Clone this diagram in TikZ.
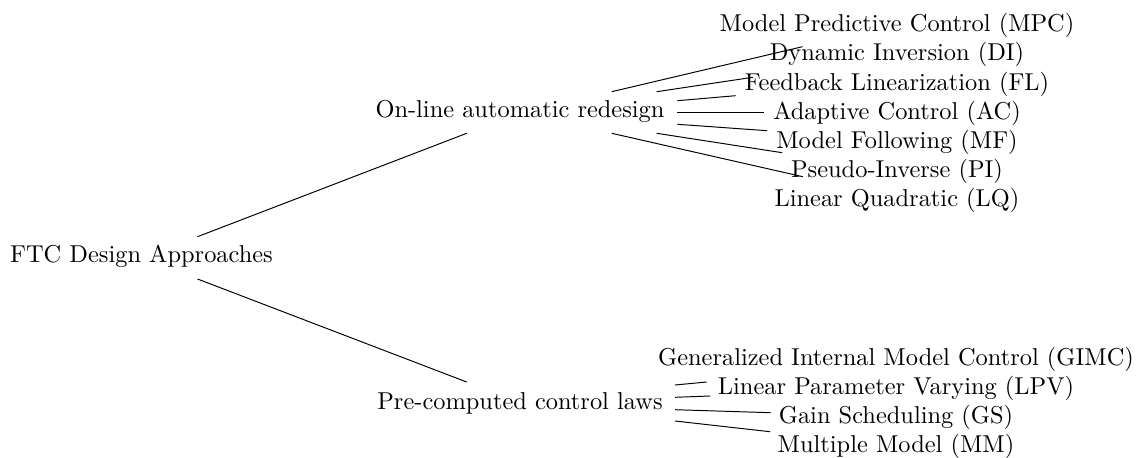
\documentclass[tikz,border=0pt]{standalone}
\begin{document}
\begin{tikzpicture}[x=0.4098pt,y=-0.4098pt,
  txt/.style={inner sep=0pt,anchor=base},
  branch/.style={line width=0.4pt}]
\useasboundingbox (0,0) rectangle (1145,457);

% root and the two families of approaches
\node[txt] (root)   at (141.5,262)   {FTC Design Approaches};
\node[txt] (online) at (520,117.3)   {On-line automatic redesign};
\node[txt] (pre)    at (520,409.3)   {Pre-computed control laws};

% on-line redesign methods
\node[txt] (mpc) at (897,31.7)  {Model Predictive Control (MPC)};
\node[txt] (di)  at (897,60.9)  {Dynamic Inversion (DI)};
\node[txt] (fl)  at (897,90.1)  {Feedback Linearization (FL)};
\node[txt] (ac)  at (897,119.3) {Adaptive Control (AC)};
\node[txt] (mf)  at (897,148.5) {Model Following (MF)};
\node[txt] (pi)  at (897,177.7) {Pseudo-Inverse (PI)};
\node[txt] (lq)  at (897,206.9) {Linear Quadratic (LQ)};

% pre-computed methods
\node[txt] (gimc) at (896,365.5) {Generalized Internal Model Control (GIMC)};
\node[txt] (lpv)  at (896,394.7) {Linear Parameter Varying (LPV)};
\node[txt] (gs)   at (896,423.9) {Gain Scheduling (GS)};
\node[txt] (mm)   at (896,452.5) {Multiple Model (MM)};

% edge end points
\coordinate (root-up)  at (197.5,236.7);
\coordinate (online-in) at (466.7,133.3);
\coordinate (root-dn)  at (197.5,279);
\coordinate (pre-in)   at (466.7,382);

\coordinate (on1) at (611.7,91.7);  \coordinate (on1e) at (802.5,46.7);
\coordinate (on2) at (656.7,91.7);  \coordinate (on2e) at (752.8,77.3);
\coordinate (on3) at (677.3,100.7); \coordinate (on3e) at (735.6,95.7);
\coordinate (on4) at (677.3,112.3); \coordinate (on4e) at (763.5,112.3);
\coordinate (on5) at (677.3,124.3); \coordinate (on5e) at (767.2,130.7);
\coordinate (on6) at (656.7,133.3); \coordinate (on6e) at (782.2,152.7);
\coordinate (on7) at (611.7,133.3); \coordinate (on7e) at (802.8,176.7);

\coordinate (pc1) at (675,385);   \coordinate (pc1e) at (706.7,382);
\coordinate (pc2) at (675,397.3); \coordinate (pc2e) at (710,396);
\coordinate (pc3) at (675,409.7); \coordinate (pc3e) at (770.7,412.7);
\coordinate (pc4) at (675,421);   \coordinate (pc4e) at (770,431.7);

% edges
\draw[branch] (root-up) -- (online-in);
\draw[branch] (root-dn) -- (pre-in);
\foreach \i in {1,...,7} \draw[branch] (on\i) -- (on\i e);
\foreach \i in {1,...,4} \draw[branch] (pc\i) -- (pc\i e);
\end{tikzpicture}
\end{document}
